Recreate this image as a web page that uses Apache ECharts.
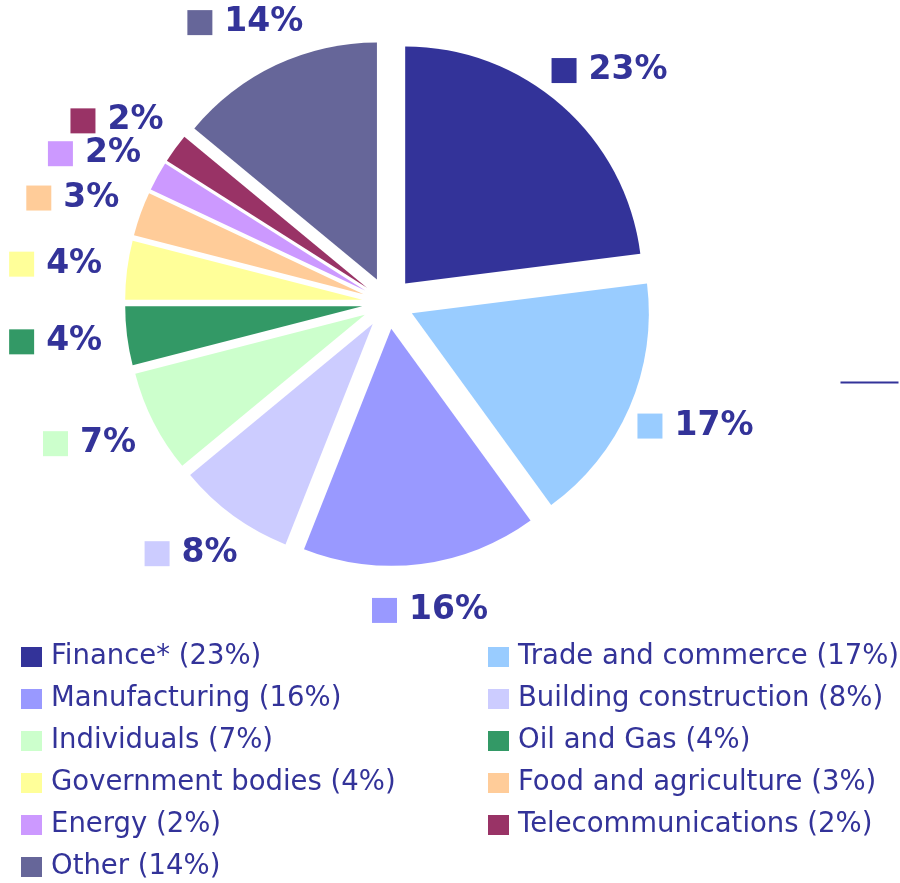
<!DOCTYPE html>
<html><head><meta charset="utf-8">
<script src="https://cdn.jsdelivr.net/npm/echarts@6/dist/echarts.min.js"></script>
<style>html,body{margin:0;padding:0;background:#fff}#chart{width:900px;height:883px}</style>
</head><body><div id="chart"></div>
<script>
// ---- data ----
const categories = ['Finance*', 'Trade and commerce', 'Manufacturing', 'Building construction', 'Individuals', 'Oil and Gas', 'Government bodies', 'Food and agriculture', 'Energy', 'Telecommunications', 'Other'];
const shares = [23, 17, 16, 8, 7, 4, 4, 3, 2, 2, 14];
const colors = ['#333399', '#99CCFF', '#9999FF', '#CCCCFF', '#CCFFCC', '#339966', '#FFFF99', '#FFCC99', '#CC99FF', '#993366', '#666699'];
const leftLegend = ['Finance*', 'Manufacturing', 'Individuals', 'Government bodies', 'Energy', 'Other'];
const rightLegend = ['Trade and commerce', 'Building construction', 'Oil and Gas', 'Food and agriculture', 'Telecommunications'];

// ---- chart ----
const FONT = 'DejaVu Sans';
const TEXT = '#333399';
const CX = 388, CY = 303;      // pie centre
const LABEL_Y_SQUEEZE = 0.925; // labels sit on a slightly flattened ring
const shareOf = {};
categories.forEach((c, i) => { shareOf[c] = shares[i]; });

const rich = { v: { fontFamily: FONT, fontWeight: 'bold', fontSize: 33, color: TEXT, padding: [0, 0, 0, 12], verticalAlign: 'middle' } };
colors.forEach((c, i) => { rich['s' + i] = { width: 25, height: 25, backgroundColor: c, verticalAlign: 'middle' }; });

const pieData = categories.map((n, i) => ({ name: n, value: shares[i], selected: true, itemStyle: { color: colors[i] } }));
const labelData = categories.map((n, i) => ({ name: n, value: shares[i] }));

function legendCfg(left, names) {
  return {
    orient: 'vertical', left: left, top: 642, padding: 0,
    data: names, icon: 'rect', itemWidth: 21, itemHeight: 20, itemGap: 12,
    selectedMode: false,
    formatter: name => name + ' (' + shareOf[name] + '%)',
    textStyle: { fontFamily: FONT, fontSize: 27.5, color: TEXT, lineHeight: 30, padding: [0, 0, 0, 4] }
  };
}

const chart = echarts.init(document.getElementById('chart'), null, { renderer: 'canvas' });
chart.setOption({
  animation: false,
  backgroundColor: '#ffffff',
  legend: [legendCfg(21, leftLegend), legendCfg(488, rightLegend)],
  graphic: [{
    type: 'line', right: -1, top: 380, silent: true,
    shape: { x1: 0, y1: 0, x2: 58, y2: 0 },
    style: { stroke: TEXT, lineWidth: 2 }
  }],
  series: [
    {
      type: 'pie', name: 'Sectors',
      center: [CX, CY], radius: 237,
      startAngle: 90, clockwise: true,
      selectedMode: 'multiple', selectedOffset: 26,
      avoidLabelOverlap: false,
      label: { show: false }, labelLine: { show: false },
      emphasis: { disabled: true },
      itemStyle: { borderWidth: 0 },
      data: pieData
    },
    {
      type: 'pie', name: 'Labels', silent: true,
      center: [CX, CY], radius: [310, 354],
      startAngle: 90, clockwise: true,
      selectedMode: false,
      avoidLabelOverlap: false,
      itemStyle: { color: 'rgba(0,0,0,0)', borderWidth: 0 },
      emphasis: { disabled: true },
      labelLine: { show: false },
      label: {
        show: true, position: 'inside',
        formatter: p => '{s' + p.dataIndex + '|}{v|' + p.value + '%}',
        rich: rich
      },
      labelLayout: function (p) {
        const r = p.labelRect;
        const my = r.y + r.height / 2;
        return { dy: (my - CY) * (LABEL_Y_SQUEEZE - 1) };
      },
      data: labelData
    }
  ]
});
</script>
</body></html>
